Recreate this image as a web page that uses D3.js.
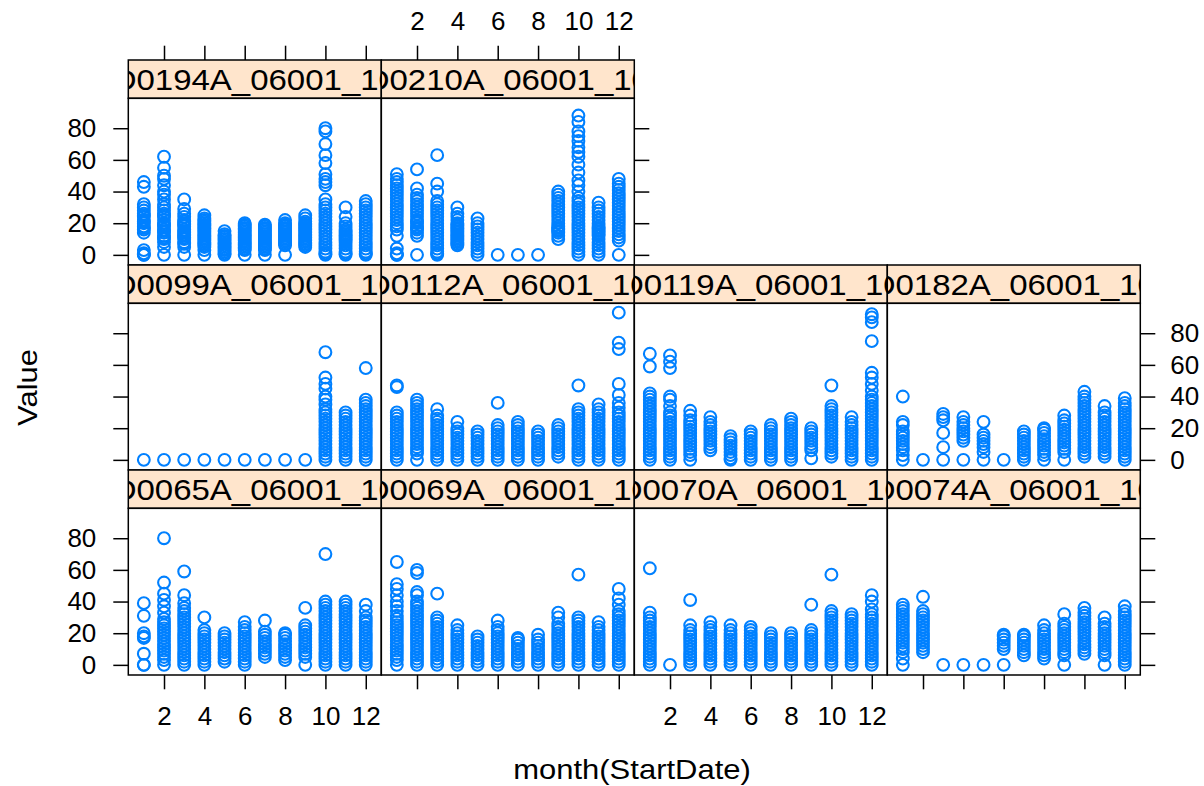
<!DOCTYPE html>
<html>
<head>
<meta charset="utf-8">
<script src="https://cdn.jsdelivr.net/npm/d3@7"></script>
<style>
  html, body { margin: 0; padding: 0; background: #ffffff; }
  svg { display: block; }
  text { font-family: "Liberation Sans", Arial, Helvetica, sans-serif; fill: #000; }
</style>
</head>
<body>
<svg id="chart" width="1204" height="786"></svg>
<script>
// ---------- data ----------
const months = [1,2,3,4,5,6,7,8,9,10,11,12];
const xTicks = [2,4,6,8,10,12];
const yTicks = [0,20,40,60,80];
const panelNames = ["D0194A_06001_10","D0210A_06001_10","D0099A_06001_10","D0112A_06001_10","D0119A_06001_10",
                    "D0182A_06001_10","D0065A_06001_10","D0069A_06001_10","D0070A_06001_10","D0074A_06001_10"];

const v0194A = [
  [0,0,1,3,14,16,17,18,20,21,22,24,25,26,28,30,32,43,46],
  [0,5,8,10,11,12,14,15,16,18,19,20,22,24,25,26,28,30,32,35,38,40,44,48,50,55,62],
  [0,5,7,8,10,11,12,13,14,15,16,18,19,20,21,22,24,26,29,35],
  [0,3,5,6,7,8,9,10,11,12,13,14,15,16,17,18,19,20,21,22,23,25],
  [0,1,2,3,4,5,6,7,8,9,10,11,12,13,15],
  [0,3,4,5,6,7,8,9,10,11,12,13,14,15,16,17,18,19,20],
  [0,3,4,5,6,7,8,9,10,11,12,13,14,15,16,17,18,19],
  [0,6,7,8,9,10,11,12,13,14,15,16,17,18,19,20,22],
  [5,6,7,8,9,10,11,12,13,14,15,16,17,18,19,20,21,23,25],
  [0,1,2,4,6,8,10,12,14,16,18,20,22,24,26,28,30,32,35,44,46,48,51,58,63,70,78,80],
  [0,1,2,4,6,8,9,10,11,12,13,14,15,16,18,20,24,30],
  [0,1,2,4,6,8,10,12,14,16,18,20,22,24,26,28,30,32,34]
];
const v0210A = [
  [0,0,1,4,12,16,18,20,22,24,26,28,30,32,34,36,38,40,42,44,46,48,51],
  [0,12,14,16,17,18,20,21,22,24,26,28,30,32,34,36,38,42,54],
  [0,1,2,4,6,8,10,12,14,16,18,20,22,24,26,28,30,32,34,40,45,63],
  [6,7,8,9,10,11,12,13,14,15,16,17,18,19,20,22,24,26,30],
  [0,2,4,6,8,10,12,14,16,18,20,23],
  [0],
  [0],
  [0],
  [10,12,14,15,16,17,18,20,22,24,26,28,30,32,34,36,38,40],
  [0,2,4,6,8,10,12,14,16,18,20,22,24,26,28,30,32,34,36,40,44,47,52,57,62,65,68,72,75,78,84,88],
  [0,2,4,6,8,10,12,13,14,15,16,17,18,20,22,24,26,28,30,33],
  [0,9,11,13,15,17,19,21,23,25,27,29,31,33,35,37,39,41,43,45,48]
];
const v0099A = [
  [0],[0],[0],[0],[0],[0],[0],[0],[0],
  [0,2,4,6,8,10,12,14,16,18,20,22,24,26,28,30,32,35,38,40,45,48,52,68],
  [0,2,4,6,8,10,12,14,16,18,20,22,24,26,28,30],
  [0,2,4,6,8,10,12,14,16,18,20,22,24,26,28,30,32,34,36,38,58]
];
const v0112A = [
  [0,2,4,6,8,10,12,14,16,18,20,22,24,26,28,30,46,47],
  [0,4,6,8,10,12,14,16,18,20,22,24,26,28,30,32,34,36,38],
  [0,2,4,6,8,10,12,14,16,18,20,22,24,26,28,32],
  [0,2,4,6,8,10,12,14,16,18,20,24],
  [0,2,4,6,8,10,12,14,16,18],
  [0,2,4,6,8,10,12,14,16,18,20,22,36],
  [0,2,4,6,8,10,12,14,16,18,20,22,24],
  [0,2,4,6,8,10,12,14,16,18],
  [2,4,6,8,10,12,14,16,18,20,22],
  [0,2,4,6,8,10,12,14,16,18,20,22,24,26,28,30,32,47],
  [0,2,4,6,8,10,12,14,16,18,20,22,24,26,28,30,32,35],
  [0,2,4,6,8,10,12,14,16,18,20,22,24,26,28,30,33,36,41,48,70,74,93]
];
const v0119A = [
  [0,2,4,6,8,10,12,14,16,18,20,22,24,26,28,30,32,34,36,38,40,42,59,67],
  [0,2,4,6,8,10,12,14,16,18,20,22,24,26,28,30,34,38,40,58,62,66],
  [0,3,5,7,9,11,13,15,17,19,21,23,25,28,31],
  [6,8,10,12,14,16,18,20,22,24,27],
  [0,1,3,5,7,9,11,13,15],
  [0,2,4,6,8,10,12,14,16,18],
  [0,2,4,6,8,10,12,14,16,18,20,22],
  [0,2,4,6,8,10,12,14,16,18,20,22,24,26],
  [1,6,8,10,12,14,16,18,20],
  [2,4,6,8,10,12,14,16,18,20,22,24,26,28,30,32,34,47],
  [0,2,4,6,8,10,12,14,16,18,20,22,24,27],
  [0,2,4,6,8,10,12,14,16,18,20,22,24,26,28,30,32,34,36,38,40,44,48,52,55,75,87,90,92]
];
const v0182A = [
  [0,3,6,8,10,12,14,16,18,22,24,40],
  [0],
  [0,8,17,25,27,29],
  [0,12,14,16,18,20,22,24,27],
  [0,5,8,10,12,14,16,24],
  [0],
  [0,2,4,6,8,10,12,14,16,18],
  [0,3,5,7,9,11,13,15,17,19,20],
  [0,5,7,9,11,13,15,17,19,21,23,25,28],
  [2,4,6,8,10,12,14,16,18,20,22,24,26,28,30,32,34,36,38,40,43],
  [2,4,6,8,10,12,14,16,18,20,22,24,26,28,30,34],
  [0,2,4,6,8,10,12,14,16,18,20,22,24,26,28,30,32,34,36,39]
];
const v0065A = [
  [0,0,7,17,18,20,31,39],
  [0,3,5,7,9,11,13,15,17,19,21,23,25,27,29,33,37,41,45,52,80],
  [0,2,4,6,8,10,12,14,16,18,20,22,24,26,28,30,32,34,36,39,44,59],
  [0,2,4,6,8,10,12,14,16,18,20,22,30],
  [2,4,6,8,10,12,14,16,18,20],
  [0,2,4,6,8,10,12,14,16,18,20,22,24,27],
  [5,7,9,11,13,15,17,19,21,28],
  [3,5,7,9,11,13,15,17,19,20],
  [0,5,7,9,11,13,15,17,19,21,23,25,36],
  [0,2,4,6,8,10,12,14,16,18,20,22,24,26,28,30,32,34,36,38,40,70],
  [0,2,4,6,8,10,12,14,16,18,20,22,24,26,28,30,32,34,36,38,40],
  [0,2,4,6,8,10,12,14,16,18,20,22,24,26,28,30,34,38]
];
const v0069A = [
  [0,3,5,7,9,11,13,15,17,19,21,23,25,27,29,31,34,37,40,44,48,51,65],
  [0,2,4,6,8,10,12,14,16,18,20,22,24,26,28,30,32,34,36,38,40,44,46,58,60],
  [0,2,4,6,8,10,12,14,16,18,20,22,24,26,28,30,45],
  [0,2,4,6,8,10,12,14,16,18,20,22,25],
  [0,2,4,6,8,10,12,14,16,18],
  [0,2,4,6,8,10,12,14,16,18,20,22,24,28],
  [0,2,4,6,8,10,12,14,16,17],
  [0,2,4,6,8,10,12,14,16,19],
  [0,2,4,6,8,10,12,14,16,18,20,22,24,26,30,33],
  [0,2,4,6,8,10,12,14,16,18,20,22,24,26,28,30,57],
  [0,2,4,6,8,10,12,14,16,18,20,22,24,27],
  [0,2,4,6,8,10,12,14,16,18,20,22,24,26,28,30,32,34,38,42,48]
];
const v0070A = [
  [0,2,4,6,8,10,12,14,16,18,20,22,24,26,28,30,33,61],
  [0],
  [0,2,4,6,8,10,12,14,16,18,20,22,25,41],
  [0,2,4,6,8,10,12,14,16,18,20,22,24,27],
  [0,2,4,6,8,10,12,14,16,18,20,22,25],
  [0,2,4,6,8,10,12,14,16,18,20,22,24],
  [0,2,4,6,8,10,12,14,16,18,20],
  [0,2,4,6,8,10,12,14,16,18,20],
  [0,2,4,6,8,10,12,14,16,18,20,22,38],
  [0,2,4,6,8,10,12,14,16,18,20,22,24,26,28,30,32,34,57],
  [0,2,4,6,8,10,12,14,16,18,20,22,24,26,28,30,32],
  [0,2,4,6,8,10,12,14,16,18,20,22,24,26,28,30,32,35,40,44]
];
const v0074A = [
  [0,4,8,10,12,14,16,18,20,22,24,26,28,30,32,34,36,38],
  [8,10,12,14,16,18,20,22,24,26,28,30,32,34,43],
  [0],
  [0],
  [0],
  [0,10,12,14,16,18,19],
  [6,8,10,12,14,16,18,19],
  [4,6,8,10,12,14,16,18,20,22,25],
  [0,6,8,10,12,14,16,18,20,22,24,26,32],
  [7,9,11,13,15,17,19,21,23,25,27,29,31,33,36],
  [0,6,8,10,12,14,16,18,20,22,24,26,30],
  [0,2,4,6,8,10,12,14,16,18,20,22,24,26,28,30,32,34,37]
];
const panelValues = [v0194A, v0210A, v0099A, v0112A, v0119A, v0182A, v0065A, v0069A, v0070A, v0074A];

// ---------- layout ----------
const svg = d3.select("#chart");
const colX = [128.3, 381.3, 634.3, 887.3];
const rowTop = [60, 265, 470];
const PW = 253, SH = 38.3, PH = 166.7;
const cells = [[0,0],[0,1],[1,0],[1,1],[1,2],[1,3],[2,0],[2,1],[2,2],[2,3]];
const blue = "#0080ff";

const x = d3.scaleLinear().domain([0.23, 12.77]).range([0, PW]);
const y = d3.scaleLinear().domain([-6.4, 98.9]).range([PH, 0]);

const defs = svg.append("defs");

panelNames.forEach((name, i) => {
  const [r, c] = cells[i];
  const gx = colX[c], gy = rowTop[r];
  const g = svg.append("g").attr("transform", `translate(${gx},${gy})`);

  // strip
  defs.append("clipPath").attr("id", "clip" + i)
    .append("rect").attr("x", 0).attr("y", 0).attr("width", PW).attr("height", SH);
  g.append("rect").attr("x", 0).attr("y", 0).attr("width", PW).attr("height", SH)
    .attr("fill", "#ffe5cc");
  g.append("g").attr("clip-path", `url(#clip${i})`)
    .append("text")
    .attr("transform", `translate(${PW / 2},30) scale(1,0.89)`)
    .attr("text-anchor", "middle")
    .style("font-size", "33px")
    .text(name);
  g.append("rect").attr("x", 0).attr("y", 0).attr("width", PW).attr("height", SH)
    .attr("fill", "none").attr("stroke", "#000").attr("stroke-width", 1.5);

  // panel
  const p = g.append("g").attr("transform", `translate(0,${SH})`);
  defs.append("clipPath").attr("id", "pclip" + i)
    .append("rect").attr("x", 0).attr("y", 0).attr("width", PW).attr("height", PH);
  const pts = [];
  panelValues[i].forEach((vals, mi) => vals.forEach(v => pts.push([months[mi], v])));
  p.append("g").attr("clip-path", `url(#pclip${i})`)
    .selectAll("circle").data(pts).join("circle")
    .attr("cx", d => x(d[0])).attr("cy", d => y(d[1])).attr("r", 5.9)
    .attr("fill", "none").attr("stroke", blue).attr("stroke-width", 2.1);
  p.append("rect").attr("x", 0).attr("y", 0).attr("width", PW).attr("height", PH)
    .attr("fill", "none").attr("stroke", "#000").attr("stroke-width", 1.5);

  // axes
  const styleAxis = (sel) => {
    sel.select(".domain").remove();
    sel.selectAll(".tick line").attr("stroke", "#000").attr("stroke-width", 1.5);
    sel.selectAll(".tick text").style("font-size", "26px").attr("fill", "#000")
      .style("font-family", '"Liberation Sans", Arial, sans-serif');
  };
  if (c === 0) {
    const lab = (r !== 1);
    p.append("g").call(d3.axisLeft(y).tickValues(yTicks).tickSize(15).tickPadding(17)
      .tickFormat(lab ? d3.format("d") : () => "")).call(styleAxis);
  }
  if ((r === 0 && c === 1) || c === 3) {
    const lab = (r === 1);
    p.append("g").attr("transform", `translate(${PW},0)`)
      .call(d3.axisRight(y).tickValues(yTicks).tickSize(15).tickPadding(15)
      .tickFormat(lab ? d3.format("d") : () => "")).call(styleAxis);
  }
  if (r === 0) {
    const lab = (c === 1);
    g.append("g").call(d3.axisTop(x).tickValues(xTicks).tickSize(14.3).tickPadding(15.7)
      .tickFormat(lab ? d3.format("d") : () => "")).call(styleAxis);
  }
  if (r === 2) {
    const lab = (c === 0 || c === 2);
    p.append("g").attr("transform", `translate(0,${PH})`)
      .call(d3.axisBottom(x).tickValues(xTicks).tickSize(14.3).tickPadding(17)
      .tickFormat(lab ? d3.format("d") : () => "")).call(styleAxis);
  }
});

// axis titles
svg.append("text")
  .attr("transform", "translate(632,779) scale(1,0.88)")
  .attr("text-anchor", "middle").style("font-size", "31px")
  .text("month(StartDate)");
svg.append("text")
  .attr("transform", "translate(37,387.5) rotate(-90) scale(1,0.88)")
  .attr("text-anchor", "middle").style("font-size", "31px")
  .text("Value");
</script>
</body>
</html>
